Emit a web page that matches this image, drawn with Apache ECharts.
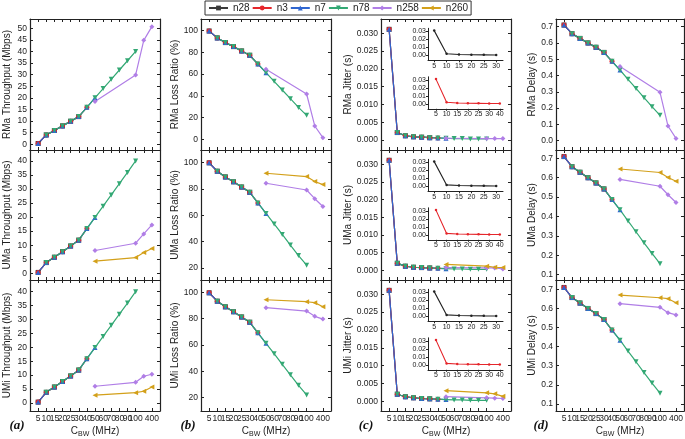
<!DOCTYPE html>
<html><head><meta charset="utf-8">
<script src="https://cdn.jsdelivr.net/npm/echarts@6/dist/echarts.min.js"></script>
<style>html,body{margin:0;padding:0;background:#fff}#c{width:685px;height:439px}</style>
</head><body><div id="c"></div>
<script>
// ---------------- DATA ----------------
const categories = ['5','10','15','20','25','30','40','50','60','70','80','90','100','200','400'];
const seriesNames = ['n28','n3','n7','n78','n258','n260'];
const bandN28 = ['5','10','15','20','25','30'];
const bandN3  = ['5','10','15','20','25','30','40'];
const bandN7  = ['5','10','15','20','25','30','40','50'];
const bandN78 = ['10','15','20','25','30','40','50','60','70','80','90','100'];
const bandFR2 = ['50','100','200','400'];

// values at 5..100 MHz (FR1 bands, overlapping curves)
const thrRMa = [0.3,4.0,5.9,7.9,9.9,11.9,15.9,20.0,24.0,28.0,32.0,36.0,40.0];
const thrUMa = [0.3,3.8,5.7,7.7,9.7,11.8,15.9,19.9,23.9,27.9,31.9,35.9,40.0];
const thrUMi = [0.3,3.8,5.7,7.7,9.7,11.8,15.9,19.9,23.9,27.9,31.9,35.9,40.0];
const thrRMaN258 = [18.4,29.9,44.8,50.7];
const thrUMaN258 = [8.1,10.7,14.0,17.2];
const thrUMaN260 = [4.3,5.6,7.4,8.8];
const thrUMiN258 = [6.0,7.4,9.6,10.3];
const thrUMiN260 = [2.8,3.7,4.2,5.7];

const lossRMa = [99.7,93.3,89.0,85.3,81.3,77.3,69.3,61.3,53.4,45.4,37.4,29.4,22.1];
const lossUMa = [99.7,93.3,89.0,85.3,81.3,77.3,69.3,61.3,53.4,45.4,37.4,29.4,22.1];
const lossUMi = [99.7,93.3,89.0,85.3,81.3,77.3,69.3,61.3,53.4,45.4,37.4,29.4,22.1];
const lossRMaN258 = [64.4,41.7,12.3,1.5];
const lossUMaN258 = [84.2,79.1,72.5,66.6];
const lossUMaN260 = [91.8,89.3,85.5,83.2];
const lossUMiN258 = [88.4,85.8,81.8,79.7];
const lossUMiN260 = [94.4,92.9,92.2,89.1];

const jitRMa = [0.0311,0.0021,0.0012,0.0009,0.0008,0.00066,0.0006,0.0005,0.0004,0.0004,0.0003,0.0003,0.0003];
const jitUMa = [0.0311,0.0020,0.0012,0.0009,0.0008,0.0007,0.0006,0.0005,0.0004,0.0004,0.0003,0.0003,0.0003];
const jitUMi = [0.0311,0.0020,0.0013,0.0010,0.0008,0.0007,0.0006,0.0005,0.0004,0.0004,0.0003,0.0003,0.0003];
const jitRMaN258 = [0.0005,0.0004,0.0004,0.0004];
const jitUMaN258 = [0.0008,0.0007,0.0007,0.0004];
const jitUMaN260 = [0.0017,0.0012,0.0009,0.0008];
const jitUMiN258 = [0.0013,0.0010,0.0009,0.0008];
const jitUMiN260 = [0.0030,0.0024,0.0021,0.0014];

const delRMa = [0.710,0.657,0.628,0.600,0.573,0.542,0.487,0.434,0.377,0.321,0.264,0.209,0.156];
const delUMa = [0.709,0.657,0.628,0.600,0.573,0.542,0.487,0.434,0.377,0.321,0.264,0.209,0.156];
const delUMi = [0.710,0.657,0.628,0.600,0.573,0.542,0.487,0.434,0.377,0.321,0.264,0.209,0.156];
const delRMaN258 = [0.456,0.297,0.090,0.014];
const delUMaN258 = [0.591,0.556,0.512,0.472];
const delUMaN260 = [0.645,0.627,0.601,0.582];
const delUMiN258 = [0.625,0.606,0.578,0.566];
const delUMiN260 = [0.670,0.656,0.651,0.630];

// tick labels
const thrTicksRMa = [0,5,10,15,20,25,30,35,40,45,50];
const thrTicks = [0,5,10,15,20,25,30,35,40];
const lossTicksRMa = [0,20,40,60,80,100];
const lossTicks = [20,40,60,80,100];
const jitTicks = [0,0.005,0.010,0.015,0.020,0.025,0.030];
const delTicksRMa = [0,0.1,0.2,0.3,0.4,0.5,0.6,0.7];
const delTicks = [0.1,0.2,0.3,0.4,0.5,0.6,0.7];
const insetYTicks = [0,0.01,0.02,0.03];
const panelLetters = ['(a)','(b)','(c)','(d)'];

// ---------------- LAYOUT / STYLE ----------------
const colors = {n28:'#3a3a3a', n3:'#e5262b', n7:'#2f66d0', n78:'#33a874', n258:'#b07ee6', n260:'#d3a01a'};
const symbols = {n28:['rect',0], n3:['circle',0], n7:['triangle',0], n78:['triangle',180], n258:['diamond',0], n260:['triangle',90]};
const colL = [30,201,381,556], colW = [130,130,130,128];
const rowT = [19,150,280], rowH = [131,130,131];
const nameGaps = [18,19,27,19];
const FONT = 'Liberation Sans, Arial, sans-serif';
const AX = '#222';

const panels = [
 {r:0,c:0,name:'RMa Throughput (Mbps)',base:thrRMa,a:thrRMaN258,b:null,ticks:thrTicksRMa,min:-2.5,max:54,dec:0},
 {r:1,c:0,name:'UMa Throughput (Mbps)',base:thrUMa,a:thrUMaN258,b:thrUMaN260,ticks:thrTicks,min:-2.4,max:43.9,dec:0},
 {r:2,c:0,name:'UMi Throughput (Mbps)',base:thrUMi,a:thrUMiN258,b:thrUMiN260,ticks:thrTicks,min:-2.9,max:44.2,dec:0},
 {r:0,c:1,name:'RMa Loss Ratio (%)',base:lossRMa,a:lossRMaN258,b:null,ticks:lossTicksRMa,min:-9.8,max:110.7,dec:0},
 {r:1,c:1,name:'UMa Loss Ratio (%)',base:lossUMa,a:lossUMaN258,b:lossUMaN260,ticks:lossTicks,min:10.9,max:109.4,dec:0},
 {r:2,c:1,name:'UMi Loss Ratio (%)',base:lossUMi,a:lossUMiN258,b:lossUMiN260,ticks:lossTicks,min:9.9,max:109.4,dec:0},
 {r:0,c:2,name:'RMa Jitter (s)',base:jitRMa,a:jitRMaN258,b:null,ticks:jitTicks,min:-0.0028,max:0.034,dec:3,inset:true},
 {r:1,c:2,name:'UMa Jitter (s)',base:jitUMa,a:jitUMaN258,b:jitUMaN260,ticks:jitTicks,min:-0.0027,max:0.034,dec:3,inset:true},
 {r:2,c:2,name:'UMi Jitter (s)',base:jitUMi,a:jitUMiN258,b:jitUMiN260,ticks:jitTicks,min:-0.0027,max:0.034,dec:3,inset:true},
 {r:0,c:3,name:'RMa Delay (s)',base:delRMa,a:delRMaN258,b:null,ticks:delTicksRMa,min:-0.057,max:0.747,dec:1},
 {r:1,c:3,name:'UMa Delay (s)',base:delUMa,a:delUMaN258,b:delUMaN260,ticks:delTicks,min:0.072,max:0.743,dec:1},
 {r:2,c:3,name:'UMi Delay (s)',base:delUMi,a:delUMiN258,b:delUMiN260,ticks:delTicks,min:0.063,max:0.749,dec:1},
];

const grid = [], xAxis = [], yAxis = [], series = [], graphic = [];
const catIdx = categories.map((_, i) => i);
const lineStyleAx = {color: AX, width: 1.2};

function addSeries(name, gi, pts, size) {
  series.push({
    type:'line', name, xAxisIndex: gi*2, yAxisIndex: gi*2, data: pts,
    symbol: symbols[name][0], symbolRotate: symbols[name][1], symbolSize: size || 5,
    showSymbol: true, animation: false,
    itemStyle: {color: colors[name]}, lineStyle: {color: colors[name], width: 1.2}
  });
}
const ptsFromBase = (band, base) => band.map(b => [categories.indexOf(b), base[categories.indexOf(b)]]);
const ptsFR2 = (vals) => bandFR2.map((b, k) => [categories.indexOf(b), vals[k]]);

panels.forEach((p, gi) => {
  grid.push({left: colL[p.c], top: rowT[p.r], width: colW[p.c], height: rowH[p.r], outerBoundsMode: 'none'});
  const bottom = p.r === 2;
  const xBase = {type:'value', gridIndex: gi, min:-1, max:15, splitLine:{show:false},
    axisLine:{show:true, onZero:false, lineStyle: lineStyleAx}};
  xAxis.push(Object.assign({}, xBase, {position:'bottom',
    axisTick:{show:true, inside:true, length:3, customValues: catIdx, lineStyle:{color:AX}},
    axisLabel:{show: bottom, customValues: catIdx, hideOverlap:false, showMinLabel:true, showMaxLabel:true,
      margin: 3, fontSize: 8.5, fontFamily: FONT, color:'#222',
      formatter: v => categories[v] !== undefined ? categories[v] : ''}}));
  xAxis.push(Object.assign({}, xBase, {position:'top',
    axisTick:{show:true, inside:true, length:3, customValues: catIdx, lineStyle:{color:AX}},
    axisLabel:{show:false}}));
  const yBase = {type:'value', gridIndex: gi, min:p.min, max:p.max, splitLine:{show:false},
    axisLine:{show:true, onZero:false, lineStyle: lineStyleAx}};
  yAxis.push(Object.assign({}, yBase, {position:'left',
    name: p.name, nameLocation:'middle', nameGap: nameGaps[p.c],
    nameTextStyle:{fontSize:10, fontFamily: FONT, color:'#222'},
    axisTick:{show:true, inside:true, length:3, customValues: p.ticks, lineStyle:{color:AX}},
    axisLabel:{show:true, customValues: p.ticks, hideOverlap:false, margin: 3, fontSize: 8.5, fontFamily: FONT, color:'#222',
      formatter: v => Number(v).toFixed(p.dec)}}));
  yAxis.push(Object.assign({}, yBase, {position:'right',
    axisTick:{show:true, inside:true, length:3, customValues: p.ticks, lineStyle:{color:AX}},
    axisLabel:{show:false}}));

  addSeries('n28', gi, ptsFromBase(bandN28, p.base));
  addSeries('n3', gi, ptsFromBase(bandN3, p.base));
  addSeries('n7', gi, ptsFromBase(bandN7, p.base));
  addSeries('n78', gi, ptsFromBase(bandN78, p.base));
  if (p.a) addSeries('n258', gi, ptsFR2(p.a));
  if (p.b) addSeries('n260', gi, ptsFR2(p.b));
});

// insets in jitter column (equally spaced bandwidth positions)
panels.filter(p => p.inset).forEach(p => {
  [['n28', bandN28, -0.5, bandN28.length - 0.45, 9.3],
   ['n3', bandN3, -0.75, bandN3.length - 0.7, 57.8]].forEach(([nm, band, xmin, xmax, dy]) => {
    const gi = grid.length;
    const idx = band.map((_, i) => i);
    const col = nm === 'n28' ? '#222' : colors.n3;
    grid.push({left: 428, top: rowT[p.r] + dy, width: 75, height: 32, outerBoundsMode:'none'});
    xAxis.push({type:'value', gridIndex: gi, min:xmin, max:xmax, splitLine:{show:false},
      axisLine:{show:true, onZero:false, lineStyle:{color:AX, width:1}},
      axisTick:{show:true, length:2, customValues: idx, lineStyle:{color:AX}},
      axisLabel:{customValues: idx, hideOverlap:false, margin:2, fontSize:7, fontFamily: FONT, color:'#222',
        formatter: v => band[v] !== undefined ? band[v] : ''}});
    xAxis.push({type:'value', gridIndex: gi, show:false});
    yAxis.push({type:'value', gridIndex: gi, min:-0.006, max:0.034, splitLine:{show:false},
      axisLine:{show:true, onZero:false, lineStyle:{color:AX, width:1}},
      axisTick:{show:true, length:2, customValues: insetYTicks, lineStyle:{color:AX}},
      axisLabel:{customValues: insetYTicks, hideOverlap:false, margin:2, fontSize:7, fontFamily: FONT, color:'#222',
        formatter: v => Number(v).toFixed(2)}});
    yAxis.push({type:'value', gridIndex: gi, show:false});
    series.push({type:'line', name: nm, xAxisIndex: gi*2, yAxisIndex: gi*2,
      data: band.map((b, i) => [i, p.base[categories.indexOf(b)]]),
      symbol:'circle', symbolSize:2.5, animation:false,
      itemStyle:{color: col}, lineStyle:{color: col, width:1.1}});
  });
});

// x-axis titles and panel letters
[0,1,2,3].forEach(c => {
  graphic.push({type:'text', x: colL[c] + colW[c]/2, y: 431, style:{
    text:'{a|C}{b|BW}{a| (MHz)}', align:'center', verticalAlign:'middle',
    rich:{a:{fontSize:10, fontFamily: FONT, fill:'#222', lineHeight:14, verticalAlign:'middle'},
          b:{fontSize:7, fontFamily: FONT, fill:'#222', lineHeight:14, verticalAlign:'bottom'}}}});
});
const letterX = [17, 188, 366, 541];
panelLetters.forEach((t, c) => {
  graphic.push({type:'text', x: letterX[c], y: 426, style:{text: t, align:'center', verticalAlign:'middle',
    font:'italic bold 13px "Liberation Serif", "Times New Roman", serif', fill:'#111'}});
});

const chart = echarts.init(document.getElementById('c'), null, {renderer:'canvas'});
chart.setOption({
  animation:false,
  backgroundColor:'#fff',
  legend:{data: seriesNames, left:205, top:1, itemWidth:19, itemHeight:6, itemGap:2,
    padding:[2,3,2,3], borderColor:'#333', borderWidth:1,
    textStyle:{fontSize:10, fontFamily: FONT, color:'#222'}},
  grid, xAxis, yAxis, series, graphic
});
</script></body></html>
